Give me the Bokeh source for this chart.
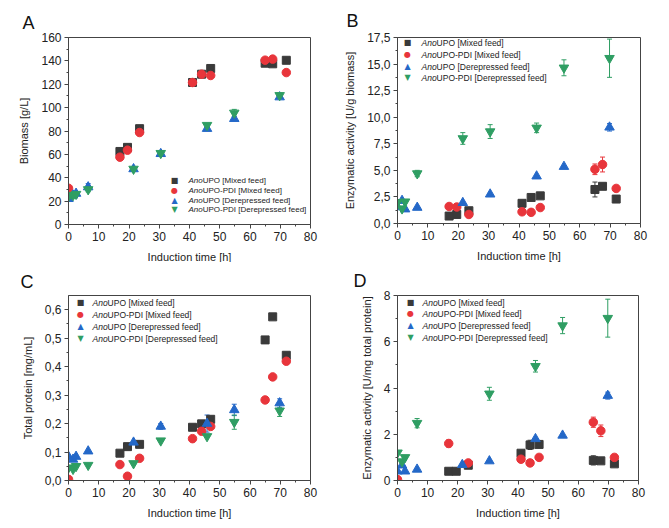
import math
from bokeh.plotting import figure
from bokeh.layouts import gridplot
from bokeh.models import (ColumnDataSource, Whisker, TeeHead, Label, Range1d,
                          CustomJSTickFormatter, FixedTicker)
from bokeh.embed import file_html
from bokeh.resources import INLINE

nan = float("nan")

# ---------------- data ----------------
t_mixed = [0, 17, 19.5, 23.5, 41, 44, 47, 65, 67.5, 72]
t_derep = [0, 1.5, 2.5, 6.5, 21.5, 30.5, 45.8, 54.8, 69.8]

# Panel A: biomass [g/L]
a_upo_mixed = [nan, 62.5, 66, 82, 121.5, 128.6, 133.5, 138, 137.5, 140.5]
a_pdi_mixed = [31, 57.6, 63.6, 78.7, 121.5, 128.6, 127.5, 140.6, 141.5, 130]
a_upo_derep = [22, 25, 26.5, 32, 47.5, 60.5, 82, 90.5, 109]
a_pdi_derep = [24, 25, 26, 30, 47.5, 61, 85, 95.5, 110.5]
a_err_upo_mixed = [0, 0, 0, 0, 0, 0, 0, 0, 0, 0]
a_err_pdi_mixed = [0, 0, 0, 0, 0, 0, 0, 1.5, 1.5, 0]
a_err_upo_derep = [0, 0, 0, 3, 0, 0, 0, 0, 0]
a_err_pdi_derep = [0, 0, 0, 2, 0, 0, 0, 3, 2]

# Panel B: enzymatic activity [U/g biomass]
b_upo_mixed = [nan, 0.7, 0.85, 1.2, 1.9, 2.45, 2.6, 3.2, 3.5, 2.3]
b_pdi_mixed = [nan, 1.6, 1.55, 0.85, 1.1, 1.05, 1.5, 5.1, 5.55, 3.3]
b_upo_derep = [1.55, 2.15, 1.35, 1.5, 1.95, 2.75, 4.45, 5.35, 9.05]
b_pdi_derep = [2.0, 1.4, 2.05, 4.7, 8.0, 8.65, 9.0, 14.65, 15.55]
b_err_upo_mixed = [0, 0, 0, 0, 0, 0.2, 0, 0.7, 0.2, 0]
b_err_pdi_mixed = [0, 0, 0, 0, 0, 0, 0, 0.5, 0.7, 0.25]
b_err_upo_derep = [0, 0, 0, 0, 0, 0, 0, 0, 0.35]
b_err_pdi_derep = [0, 0, 0, 0.3, 0.55, 0.65, 0.45, 0.75, 1.8]

# Panel C: total protein [mg/mL]
c_upo_mixed = [nan, 0.096, 0.119, 0.127, 0.187, 0.199, 0.215, 0.494, 0.575, 0.44]
c_pdi_mixed = [0.004, 0.056, 0.015, 0.078, 0.147, 0.173, 0.19, 0.283, 0.364, 0.419]
c_upo_derep = [0.084, 0.074, 0.084, 0.103, 0.134, 0.19, 0.2, 0.248, 0.272]
c_pdi_derep = [0.045, 0.04, 0.05, 0.054, 0.06, 0.14, 0.155, 0.205, 0.245]
c_err_upo_mixed = [0, 0, 0, 0, 0, 0, 0, 0, 0, 0.01]
c_err_pdi_mixed = [0, 0, 0, 0, 0, 0, 0, 0, 0, 0]
c_err_upo_derep = [0, 0, 0, 0, 0, 0.01, 0.03, 0.02, 0.015]
c_err_pdi_derep = [0, 0, 0, 0, 0, 0, 0, 0.025, 0.02]

# Panel D: enzymatic activity [U/mg total protein]
d_upo_mixed = [nan, 0.4, 0.4, 0.66, 1.18, 1.54, 1.56, 0.87, 0.85, 0.72]
d_pdi_mixed = [0.04, 1.6, nan, 0.76, 0.92, 0.76, 1.0, 2.52, 2.15, 1.0]
d_upo_derep = [0.4, 0.66, 0.4, 0.48, 0.68, 0.84, 1.8, 1.95, 3.67]
d_pdi_derep = [1.2, 0.82, 1.0, 2.48, nan, 3.75, 4.94, 6.7, 7.02]
d_err_upo_mixed = [0, 0, 0, 0, 0, 0.2, 0, 0.2, 0, 0]
d_err_pdi_mixed = [0, 0.15, 0, 0, 0, 0, 0, 0.22, 0.25, 0]
d_err_upo_derep = [0, 0, 0, 0, 0, 0, 0, 0, 0.15]
d_err_pdi_derep = [0, 0, 0, 0.2, 0, 0.28, 0.25, 0.35, 0.82]

series_names = ["UPO [Mixed feed]", "UPO-PDI [Mixed feed]",
                "UPO [Derepressed feed]", "UPO-PDI [Derepressed feed]"]
series_prefix = "Ano"
x_ticks = [0, 10, 20, 30, 40, 50, 60, 70, 80]
x_label = "Induction time [h]"

# ---------------- style ----------------
COLORS = ["#3a3a3a", "#e8353b", "#2468c8", "#2f9e63"]
MARKERS = ["square", "circle", "triangle", "inverted_triangle"]
SIZES = [8, 8.5, 9.5, 9.5]
LEG_CHARS = ["\u25A0", "\u25CF", "\u25B2", "\u25BC"]
AXC = "#444444"
FONT = "Liberation Sans"
EM_ANO = 1.779  # width of italic "Ano" in em (Arial metrics)

fmt1 = CustomJSTickFormatter(code="return tick.toFixed(1).replace('.', ',');")
fmt0 = CustomJSTickFormatter(code="return tick.toFixed(0);")


def make_panel(letter, ymax, yticks, yfmt, ylabel, ys, errs,
               bl, fw, br, bt, fh, bb, legend, letter_off):
    p = figure(frame_width=fw, frame_height=fh, output_backend="svg",
               toolbar_location=None, min_border_left=bl, min_border_right=br,
               min_border_top=bt, min_border_bottom=bb,
               x_range=Range1d(0, 80), y_range=Range1d(0, ymax),
               background_fill_color="white", border_fill_color="white")
    p.grid.visible = False
    p.outline_line_color = AXC
    p.outline_line_width = 1
    p.outline_line_alpha = 1
    p.title.text = letter
    p.title.align = "left"
    p.title.offset = letter_off[0]
    p.title.standoff = letter_off[1]
    p.title.text_font = FONT
    p.title.text_font_size = "18px"
    p.title.text_font_style = "normal"
    p.title.text_color = "#111111"
    for ax in (p.xaxis[0], p.yaxis[0]):
        ax.axis_line_color = AXC
        ax.major_tick_line_color = AXC
        ax.minor_tick_line_color = AXC
        ax.major_tick_out = 4
        ax.major_tick_in = 0
        ax.minor_tick_out = 2
        ax.minor_tick_in = 0
        ax.major_label_text_font = FONT
        ax.major_label_text_font_size = "12px"
        ax.major_label_text_color = "#222222"
        ax.axis_label_text_font = FONT
        ax.axis_label_text_font_size = "11px"
        ax.axis_label_text_font_style = "normal"
        ax.axis_label_text_color = "#222222"
        ax.major_label_standoff = 3
    p.xaxis[0].ticker = FixedTicker(ticks=x_ticks,
                                    minor_ticks=[v + 5 for v in x_ticks[:-1]])
    p.xaxis[0].axis_label = x_label
    p.xaxis[0].axis_label_standoff = 7
    step = yticks[1] - yticks[0]
    p.yaxis[0].ticker = FixedTicker(ticks=yticks,
                                    minor_ticks=[v + step / 2 for v in yticks[:-1]])
    p.yaxis[0].formatter = yfmt
    p.yaxis[0].axis_label = ylabel
    p.yaxis[0].axis_label_standoff = 8

    for i in range(4):
        t = t_mixed if i < 2 else t_derep
        y = ys[i]
        e = errs[i]
        bx, lo, up = [], [], []
        for tt, yy, ee in zip(t, y, e):
            if ee and not math.isnan(yy):
                bx.append(tt)
                lo.append(yy - ee)
                up.append(yy + ee)
        if bx:
            src = ColumnDataSource(dict(base=bx, lower=lo, upper=up))
            w = Whisker(base="base", lower="lower", upper="upper", source=src,
                        line_color=COLORS[i], line_width=1,
                        upper_head=TeeHead(size=5, line_color=COLORS[i], line_width=1),
                        lower_head=TeeHead(size=5, line_color=COLORS[i], line_width=1),
                        level="underlay")
            p.add_layout(w)
        p.scatter(t, y, marker=MARKERS[i], size=SIZES[i],
                  fill_color=COLORS[i], line_color=COLORS[i])

    # legend (drawn as text, positioned from frame top-left)
    mx, tx, rows, fs = legend
    wano = EM_ANO * fs
    for i in range(4):
        p.add_layout(Label(x=0, y=ymax, x_offset=mx, y_offset=-rows[i],
                           text=LEG_CHARS[i], text_color=COLORS[i],
                           text_font="DejaVu Sans", text_font_size="8px",
                           text_align="center", text_baseline="middle"))
        p.add_layout(Label(x=0, y=ymax, x_offset=tx, y_offset=-rows[i],
                           text=series_prefix, text_color="#222222",
                           text_font=FONT, text_font_size=f"{fs}px",
                           text_font_style="italic",
                           text_align="left", text_baseline="middle"))
        p.add_layout(Label(x=0, y=ymax, x_offset=tx + wano, y_offset=-rows[i],
                           text=series_names[i], text_color="#222222",
                           text_font=FONT, text_font_size=f"{fs}px",
                           text_align="left", text_baseline="middle"))
    return p


pA = make_panel("A", 160, [0, 20, 40, 60, 80, 100, 120, 140, 160], fmt0,
                "Biomass [g/L]",
                [a_upo_mixed, a_pdi_mixed, a_upo_derep, a_pdi_derep],
                [a_err_upo_mixed, a_err_pdi_mixed, a_err_upo_derep, a_err_pdi_derep],
                68, 242, 22, 34, 187, 41,
                (106, 120, [143, 153, 163, 172], 8), (-46, 10))
pB = make_panel("B", 17.5, [0, 2.5, 5, 7.5, 10, 12.5, 15, 17.5], fmt1,
                "Enzymatic activity [U/g biomass]",
                [b_upo_mixed, b_pdi_mixed, b_upo_derep, b_pdi_derep],
                [b_err_upo_mixed, b_err_pdi_mixed, b_err_upo_derep, b_err_pdi_derep],
                65, 243, 21, 37, 186, 39,
                (10, 24, [5, 17, 29, 40], 8.5), (-51, 13))
pC = make_panel("C", 0.65, [0, 0.1, 0.2, 0.3, 0.4, 0.5, 0.6], fmt1,
                "Total protein [mg/mL]",
                [c_upo_mixed, c_pdi_mixed, c_upo_derep, c_pdi_derep],
                [c_err_upo_mixed, c_err_pdi_mixed, c_err_upo_derep, c_err_pdi_derep],
                68, 242, 22, 31, 185, 40,
                (12, 24, [7, 19, 31, 43], 8.5), (-48, 8))
pD = make_panel("D", 8, [0, 2, 4, 6, 8], fmt0,
                "Enzymatic activity [U/mg total protein]",
                [d_upo_mixed, d_pdi_mixed, d_upo_derep, d_pdi_derep],
                [d_err_upo_mixed, d_err_pdi_mixed, d_err_upo_derep, d_err_pdi_derep],
                65, 241, 23, 31, 185, 40,
                (13, 25, [7, 18, 30, 42], 8.5), (-44, 9))

grid = gridplot([[pA, pB], [pC, pD]], toolbar_location=None)
open("out.html", "w").write(file_html(grid, INLINE))
